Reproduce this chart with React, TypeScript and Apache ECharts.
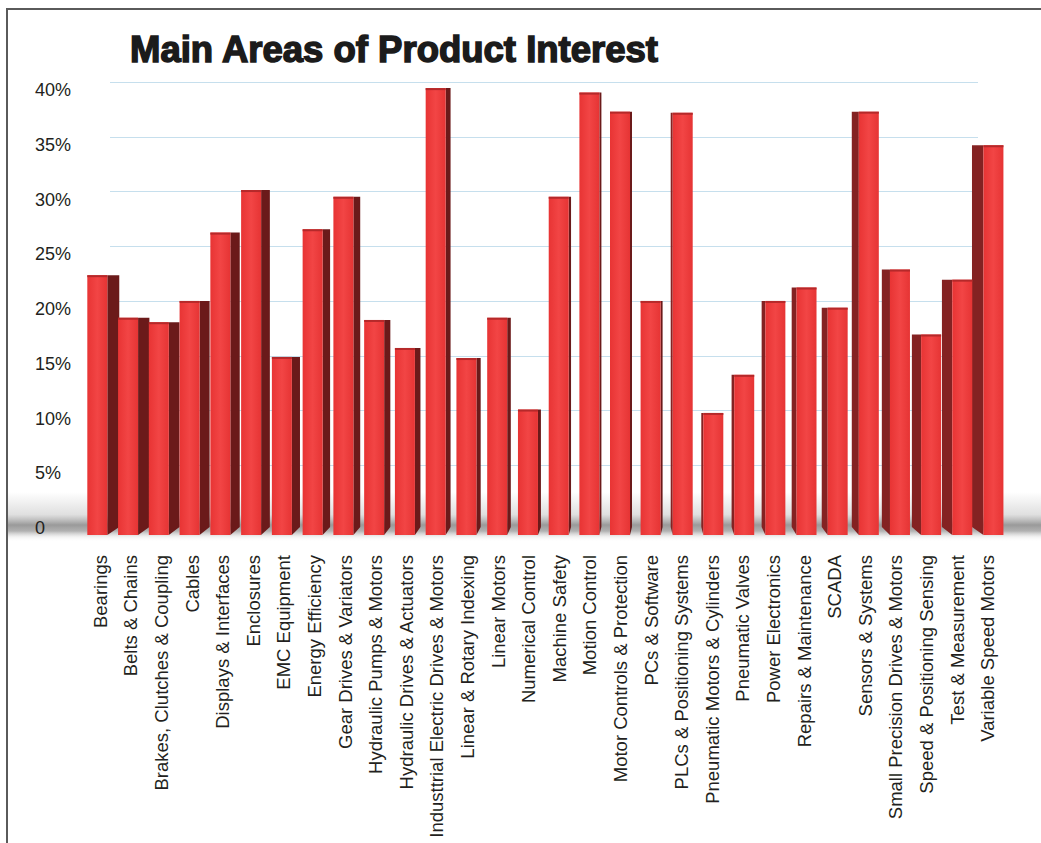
import React, { useEffect, useRef } from "react";
import * as echarts from "echarts";

const categories: string[] = [
  "Bearings",
  "Belts & Chains",
  "Brakes, Clutches & Coupling",
  "Cables",
  "Displays & Interfaces",
  "Enclosures",
  "EMC Equipment",
  "Energy Efficiency",
  "Gear Drives & Variators",
  "Hydraulic Pumps & Motors",
  "Hydraulic Drives & Actuators",
  "Industtrial Electric Drives & Motors",
  "Linear & Rotary Indexing",
  "Linear Motors",
  "Numerical Control",
  "Machine Safety",
  "Motion Control",
  "Motor Controls & Protection",
  "PCs & Software",
  "PLCs & Positioning Systems",
  "Pneumatic Motors & Cylinders",
  "Pneumatic Valves",
  "Power Electronics",
  "Repairs & Maintenance",
  "SCADA",
  "Sensors & Systems",
  "Small Precision Drives & Motors",
  "Speed & Positioning Sensing",
  "Test & Measurement",
  "Variable Speed Motors",
];

const values: number[] = [
  23.2, 19.4, 19.0, 20.9, 27.0, 30.8, 15.9, 27.3, 30.2, 19.2,
  16.7, 39.9, 15.8, 19.4, 11.2, 30.2, 39.5, 37.8, 20.9, 37.7,
  10.9, 14.3, 20.9, 22.1, 20.3, 37.8, 23.7, 17.9, 22.8, 34.8,
];

const yTicks: number[] = [0, 5, 10, 15, 20, 25, 30, 35, 40];
const titleText = "Main Areas of Product Interest";

const VP = 670;
const clamp = (v: number, a: number, b: number) => Math.max(a, Math.min(b, v));

export default function App() {
  const ref = useRef<HTMLDivElement>(null);

  useEffect(() => {
    if (!ref.current) return;
    const chart = echarts.init(ref.current, null, { renderer: "svg" });
    const n = categories.length;
    const data = categories.map((c, i) => [i, values[i]]);

    const renderItem = (params: any, api: any) => {
      const i = api.value(0);
      const v = api.value(1);
      const top = api.coord([i, v]);
      const base = api.coord([i, 0]);
      const cx = top[0];
      const leftSide = cx < VP;
      const sw = leftSide ? clamp((VP - cx) * 0.021, 2, 12) : clamp((cx - VP) * 0.036, 2, 12);
      const fw = 20;
      const fc = leftSide ? cx - sw * 0.25 : cx + sw * 0.5;
      const fx0 = fc - fw / 2;
      const fx1 = fc + fw / 2;
      const ty = top[1];
      const by = base[1];
      const zb = leftSide ? i * 3 : (n - i) * 3;
      const sidePts = leftSide
        ? [[fx1, ty], [fx1 + sw, ty], [fx1 + sw, by - 8], [fx1, by]]
        : [[fx0, ty], [fx0 - sw, ty], [fx0 - sw, by - 8], [fx0, by]];
      return {
        type: "group",
        children: [
          {
            type: "polygon",
            z2: zb + 1,
            shape: { points: sidePts },
            style: { fill: leftSide ? "#6b1a1a" : "#842222" },
          },
          {
            type: "rect",
            z2: zb + 2,
            shape: { x: fx0, y: ty, width: fw, height: by - ty },
            style: {
              fill: new echarts.graphic.LinearGradient(0, 0, 1, 0, [
                { offset: 0, color: "#e83434" },
                { offset: 0.5, color: "#f24545" },
                { offset: 1, color: "#e63434" },
              ]),
            },
          },
          {
            type: "rect",
            z2: zb + 2,
            shape: { x: fx0, y: ty, width: fw, height: 2 },
            style: { fill: "#b5292a" },
          },
        ],
      };
    };

    const gridColor = "#c6dfed";

    chart.setOption({
      animation: false,
      backgroundColor: "#ffffff",
      grid: [
        { left: 110, right: 63, top: 82, bottom: 323 },
        { left: 85, right: 38, top: 87, bottom: 308 },
      ],
      xAxis: [
        { type: "category", gridIndex: 0, data: categories, show: false },
        {
          type: "category",
          gridIndex: 1,
          data: categories,
          axisLine: { show: false },
          axisTick: { show: false },
          axisLabel: {
            rotate: 90,
            margin: 20,
            interval: 0,
            fontSize: 18.5,
            fontFamily: "Liberation Sans",
            color: "#231f20",
          },
        },
      ],
      yAxis: [
        {
          type: "value",
          gridIndex: 0,
          min: 0,
          max: 40,
          interval: 5,
          z: 2,
          axisLine: { show: false },
          axisTick: { show: false },
          splitLine: {
            show: true,
            lineStyle: {
              color: yTicks.map((t) => (t === 0 ? "rgba(0,0,0,0)" : gridColor)),
              width: 1,
            },
          },
          axisLabel: {
            align: "left",
            verticalAlign: "top",
            lineHeight: 16,
            margin: 75,
            fontSize: 18,
            fontFamily: "Liberation Sans",
            color: "#231f20",
            formatter: (v: number) => (v === 0 ? "0" : v + "%"),
          },
        },
        { type: "value", gridIndex: 1, min: 0, max: 40, show: false },
      ],
      graphic: [
        {
          type: "rect",
          z: 1,
          silent: true,
          shape: { x: 8, y: 492, width: 1033, height: 50 },
          style: {
            fill: new echarts.graphic.LinearGradient(0, 0, 0, 1, [
              { offset: 0, color: "rgba(150,150,150,0)" },
              { offset: 0.45, color: "rgba(150,150,150,0.3)" },
              { offset: 0.66, color: "rgba(120,120,120,0.75)" },
              { offset: 0.78, color: "rgba(135,135,135,0.65)" },
              { offset: 0.9, color: "rgba(220,220,220,0.35)" },
              { offset: 1, color: "rgba(255,255,255,0)" },
            ]),
          },
        },
        {
          type: "polyline",
          z: 5,
          silent: true,
          shape: { points: [[7, 843], [7, 9], [1041, 9]] },
          style: { stroke: "#5a5a5a", lineWidth: 2, fill: "none" },
        },
        {
          type: "text",
          z: 5,
          x: 130,
          y: 31,
          style: {
            text: titleText,
            font: "bold 36.5px 'Liberation Sans', Arial, sans-serif",
            fill: "#1b1b1b",
            stroke: "#1b1b1b",
            lineWidth: 1.5,
            verticalAlign: "top",
            align: "left",
          },
        },
      ],
      series: [
        {
          type: "custom",
          xAxisIndex: 1,
          yAxisIndex: 1,
          z: 3,
          renderItem,
          encode: { x: 0, y: 1 },
          data,
        },
      ],
    });

    return () => chart.dispose();
  }, []);

  return (
    <div
      ref={ref}
      style={{ position: "fixed", left: 0, top: 0, width: 1041, height: 843, background: "#fff" }}
    />
  );
}
